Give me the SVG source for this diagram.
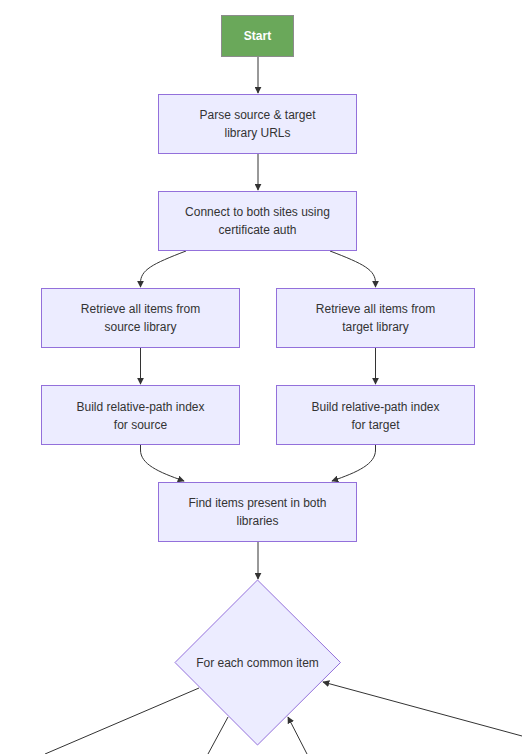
<svg xmlns="http://www.w3.org/2000/svg" width="522" height="754" viewBox="0 0 522 754">
<style>
.n{fill:#ECECFF;stroke:#9370DB;stroke-width:1}
.t{font-family:"Liberation Sans",Arial,sans-serif;font-size:12px;fill:#333;text-anchor:middle}
.e{fill:none;stroke:#333;stroke-width:1}
</style>
<defs>
<marker id="a" viewBox="0 0 10 10" refX="9" refY="5" markerWidth="7" markerHeight="7" markerUnits="userSpaceOnUse" orient="auto">
<path d="M0,0 L10,5 L0,10 z" fill="#333"/>
</marker>
</defs>
<rect width="522" height="754" fill="#fff"/>
<g id="edges">
<path class="e" d="M258,56 L258,93" marker-end="url(#a)"/>
<path class="e" d="M258,154 L258,190" marker-end="url(#a)"/>
<path class="e" d="M186,251 C152,264 140.5,270 140.5,283 L140.5,287" marker-end="url(#a)"/>
<path class="e" d="M330,251 C364,264 375.5,270 375.5,283 L375.5,287" marker-end="url(#a)"/>
<path class="e" d="M140.5,348 L140.5,384" marker-end="url(#a)"/>
<path class="e" d="M375.5,348 L375.5,384" marker-end="url(#a)"/>
<path class="e" d="M140.5,445 L140.5,450 C140.5,464 158,472 184,481" marker-end="url(#a)"/>
<path class="e" d="M375.5,445 L375.5,450 C375.5,464 358,472 332,481" marker-end="url(#a)"/>
<path class="e" d="M258,542 L258,579" marker-end="url(#a)"/>
<path class="e" d="M199,688 L45,754"/>
<path class="e" d="M228,717 L208,754"/>
<path class="e" d="M307,754 L288,717" marker-end="url(#a)"/>
<path class="e" d="M522,736 L323,682" marker-end="url(#a)"/>
</g>
<g id="start">
<rect x="221.5" y="15.5" width="72" height="41" fill="#6AA85A" stroke="#8C8C8C"/>
<text class="t" x="257.5" y="40" style="fill:#fff;font-weight:bold">Start</text>
</g>
<g id="parse">
<rect class="n" x="158.5" y="94.5" width="198" height="59"/>
<text class="t" x="257.5" y="119">Parse source &amp; target</text>
<text class="t" x="257.5" y="137">library URLs</text>
</g>
<g id="connect">
<rect class="n" x="158.5" y="191.5" width="198" height="59"/>
<text class="t" x="257.5" y="216">Connect to both sites using</text>
<text class="t" x="257.5" y="234">certificate auth</text>
</g>
<g id="retrieveSource">
<rect class="n" x="41.5" y="288.5" width="198" height="59"/>
<text class="t" x="140.5" y="313">Retrieve all items from</text>
<text class="t" x="140.5" y="331">source library</text>
</g>
<g id="retrieveTarget">
<rect class="n" x="276.5" y="288.5" width="198" height="59"/>
<text class="t" x="375.5" y="313">Retrieve all items from</text>
<text class="t" x="375.5" y="331">target library</text>
</g>
<g id="indexSource">
<rect class="n" x="41.5" y="385.5" width="198" height="59"/>
<text class="t" x="140.5" y="411">Build relative-path index</text>
<text class="t" x="140.5" y="429">for source</text>
</g>
<g id="indexTarget">
<rect class="n" x="276.5" y="385.5" width="198" height="59"/>
<text class="t" x="375.5" y="411">Build relative-path index</text>
<text class="t" x="375.5" y="429">for target</text>
</g>
<g id="findCommon">
<rect class="n" x="158.5" y="482.5" width="198" height="59"/>
<text class="t" x="257.5" y="507">Find items present in both</text>
<text class="t" x="257.5" y="525">libraries</text>
</g>
<g id="loop">
<polygon class="n" points="257.5,580 340.5,662.5 257.5,745 175,662.5"/>
<text class="t" x="257.5" y="667">For each common item</text>
</g>
</svg>
